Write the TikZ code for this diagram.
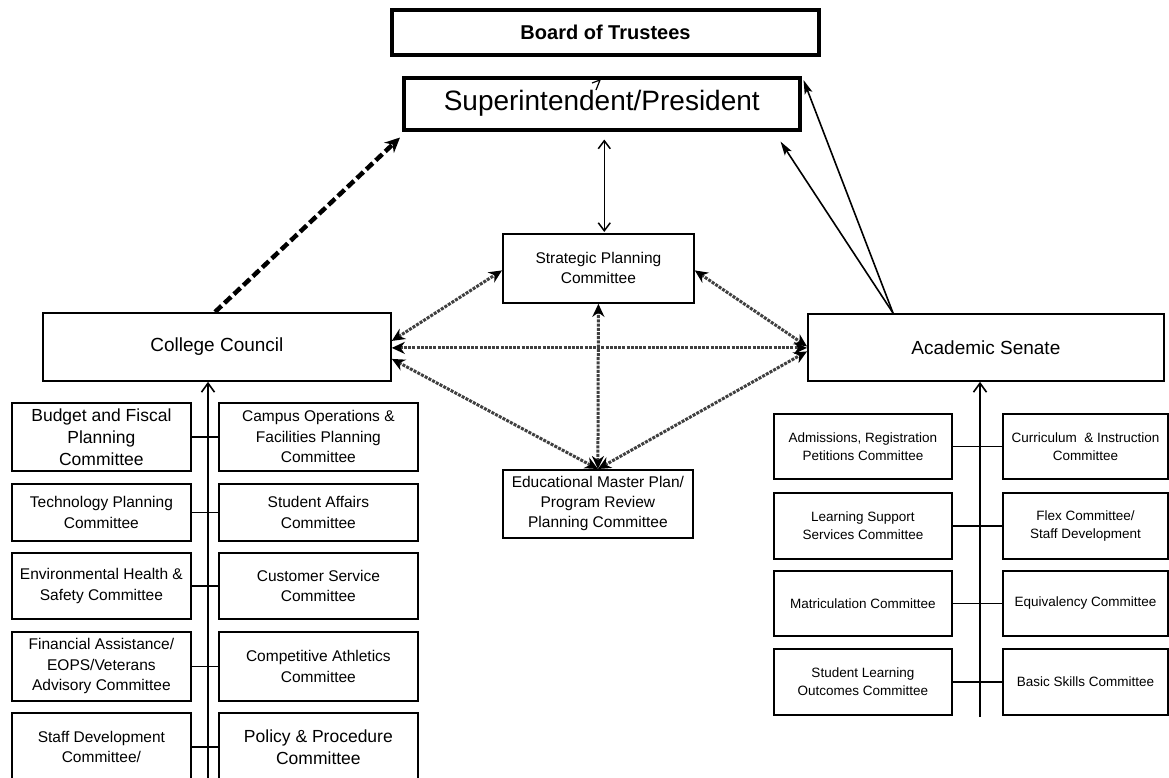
\documentclass[tikz,border=0pt]{standalone}
\usepackage{fontspec}
\setmainfont{Liberation Sans}
\usetikzlibrary{arrows.meta}
\tikzset{
  box/.style={draw, line width=1.8pt, inner sep=0pt, align=center, anchor=north west},
  fL/.style={font=\fontsize{15.5}{20.5}\selectfont},
  fLb/.style={font=\fontsize{17.5}{22}\selectfont},
  fR/.style={font=\fontsize{13.5}{18}\selectfont},
  fM/.style={font=\fontsize{15.5}{20}\selectfont},
  fB/.style={font=\fontsize{19}{23}\selectfont},
  link/.style={line width=1.6pt},
  trunk/.style={line width=1.6pt, -{Straight Barb[length=9pt,width=13pt,line width=1.6pt]}},
  fuzzy/.style={draw=black!75, line width=3pt, dash pattern=on 3pt off 1.2pt,
     {Stealth[length=13pt,width=12pt,black]}-{Stealth[length=13pt,width=12pt,black]}},
  heavy/.style={line width=4.5pt, dash pattern=on 9pt off 4pt, -{Stealth[length=15pt,width=14pt]}},
  thinarrow/.style={line width=1.6pt, -{Stealth[length=14pt,width=8pt,inset=3pt]}},
}
\begin{document}
\begin{tikzpicture}[x=1pt,y=-1pt]
\useasboundingbox (0,0) rectangle (1169,777);
\clip (0,0) rectangle (1169,777);

% top boxes
\node[box, line width=4pt, minimum width=427pt, minimum height=45pt,
      font=\bfseries\fontsize{20}{24}\selectfont] (board) at (390,8) {Board of Trustees};
\node[box, line width=3.5pt, minimum width=396pt, minimum height=52pt,
      font=\fontsize{28}{32}\selectfont] (super) at (402,76) {Superintendent/President};

% middle boxes
\node[box, minimum width=191pt, minimum height=69pt, fM] (spc) at (502,233) {Strategic Planning\\Committee};
\node[box, minimum width=190pt, minimum height=68pt, fM] (emp) at (502,469) {Educational Master Plan/\\Program Review\\Planning Committee};
\node[box, minimum width=348pt, minimum height=68pt, fB] (cc) at (42,312) {College Council};
\node[box, minimum width=356pt, minimum height=67pt, fB] (as) at (807,313) {Academic Senate};

% left committees
\node[box, minimum width=179pt, minimum height=68pt, fLb] (l1) at (11,402) {Budget and Fiscal\\Planning\\Committee};
\node[box, minimum width=199pt, minimum height=68pt, fL] (r1) at (218,402) {Campus Operations \&\\Facilities Planning\\Committee};
\node[box, minimum width=179pt, minimum height=57pt, fL] (l2) at (11,483) {Technology Planning\\Committee};
\node[box, minimum width=199pt, minimum height=57pt, fL] (r2) at (218,483) {Student Affairs\\Committee};
\node[box, minimum width=179pt, minimum height=66pt, fL] (l3) at (11,552) {Environmental Health \&\\Safety Committee};
\node[box, minimum width=199pt, minimum height=66pt, fL] (r3) at (218,552) {Customer Service\\Committee};
\node[box, minimum width=179pt, minimum height=69pt, fL] (l4) at (11,631) {Financial Assistance/\\EOPS/Veterans\\Advisory Committee};
\node[box, minimum width=199pt, minimum height=69pt, fL] (r4) at (218,631) {Competitive Athletics\\Committee};
\node[box, minimum width=179pt, minimum height=68pt, fL] (l5) at (11,712) {Staff Development\\Committee/};
\node[box, minimum width=199pt, minimum height=68pt, fLb] (r5) at (218,712) {Policy \& Procedure\\Committee};

% right committees
\node[box, minimum width=178pt, minimum height=65pt, fR] (a1) at (773,413) {Admissions, Registration\\Petitions Committee};
\node[box, minimum width=165pt, minimum height=65pt, fR] (b1) at (1002,413) {Curriculum \ \& Instruction\\Committee};
\node[box, minimum width=178pt, minimum height=66pt, fR] (a2) at (773,492) {Learning Support\\Services Committee};
\node[box, minimum width=165pt, minimum height=66pt, fR] (b2) at (1002,492) {Flex Committee/\\Staff Development};
\node[box, minimum width=178pt, minimum height=65pt, fR] (a3) at (773,570) {Matriculation Committee};
\node[box, minimum width=165pt, minimum height=65pt, fR] (b3) at (1002,570) {Equivalency Committee};
\node[box, minimum width=178pt, minimum height=66pt, fR] (a4) at (773,648) {Student Learning\\Outcomes Committee};
\node[box, minimum width=165pt, minimum height=66pt, fR] (b4) at (1002,648) {Basic Skills Committee};

% trunks
\coordinate (ltrunk) at (208,790);
\coordinate (rtrunk) at (980,717);
\draw[trunk] (ltrunk) -- (ltrunk |- cc.south);
\draw[trunk] (rtrunk) -- (rtrunk |- as.south);
\foreach \i in {1,...,5} \draw[link] (l\i.east) -- (r\i.west);
\foreach \i in {1,...,4} \draw[link] (a\i.east) -- (b\i.west);

% superintendent <-> strategic
\draw[line width=1.5pt, {Straight Barb[length=8pt,width=12pt,line width=1.5pt]}-{Straight Barb[length=8pt,width=12pt,line width=1.5pt]}, shorten <=8pt, shorten >=1pt]
  ([xshift=2.5pt]super.south) -- ([xshift=2.5pt]super.south |- spc.north);

% small stray mark inside superintendent box
\coordinate (mk) at (592,83);
\draw[line width=1.2pt] (mk) -- ++(8,-3) -- ++(-4,10);

% heavy dashed College Council -> Superintendent
\coordinate (hvS) at ([xshift=173pt]cc.north west);
\coordinate (hvE) at ([xshift=-2pt,yshift=-6pt]super.south west);
\draw[heavy] (hvS) -- (hvE);

% Academic Senate -> Superintendent
\coordinate (asT) at ([xshift=86pt]as.north west);
\coordinate (t1) at ([xshift=-21pt,yshift=-10pt]super.south east);
\coordinate (t2) at ([xshift=2pt,yshift=-4pt]super.north east);
\draw[thinarrow] (asT) -- (t1);
\draw[thinarrow] (asT) -- (t2);

% fuzzy dashed double arrows
\draw[fuzzy] ([yshift=6pt]cc.east) -- ([yshift=-2pt]spc.west);
\draw[fuzzy] ([yshift=-1pt]cc.east) -- ([yshift=-1pt]cc.east -| as.west);
\draw[fuzzy] ([yshift=-12pt]cc.east) -- (emp.north);
\draw[fuzzy] ([yshift=-2pt]spc.east) -- ([yshift=1pt]as.west);
\draw[fuzzy] (emp.north) -- ([yshift=-4pt]as.west);
\draw[fuzzy] (emp.north) -- (spc.south);
\end{tikzpicture}
\end{document}
